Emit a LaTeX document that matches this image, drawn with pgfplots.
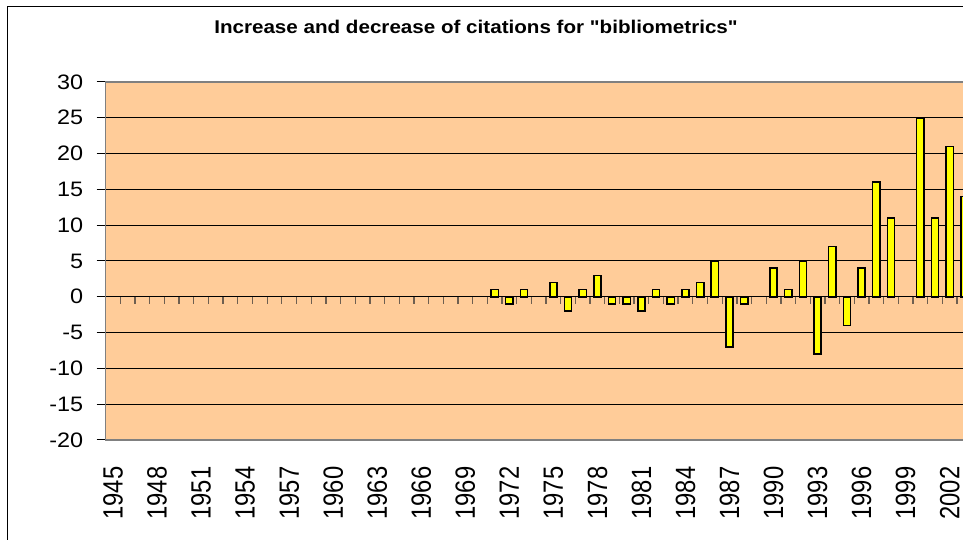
\documentclass[border=0pt]{standalone}
\usepackage{pgfplots}
\pgfplotsset{compat=1.18}
\usepackage{fontspec}
\setmainfont{Liberation Sans}[Ligatures=TeXOff]
\definecolor{bgc}{HTML}{FFCC99}
\definecolor{baryel}{HTML}{FFFF00}
\definecolor{tickc}{RGB}{110,95,80}
\begin{document}
\begin{tikzpicture}[x=1pt,y=1pt]
\useasboundingbox (0,0) rectangle (963,540);
\clip (0,0) rectangle (963,540);
\fill[white] (0,0) rectangle (963,540);
\draw[black, line width=1pt] (7,-20) -- (7,533) -- (1000,533);
\node[font=\bfseries\fontsize{18.4}{20}\selectfont] at (476,513) {\scalebox{1.12}[1]{Increase and decrease of citations for "bibliometrics"}};
\begin{axis}[
  at={(105.7pt,100pt)}, anchor=south west,
  scale only axis, width=866pt, height=358pt,
  xmin=1944.5, xmax=2003.5, ymin=-20, ymax=30,
  axis background/.style={fill=bgc},
  ytick={-20,-15,...,30},
  xtick={1945,1948,...,2002},
  ymajorgrids, grid style={black, line width=1pt},
  axis line style={draw=gray, line width=1.5pt},
  tick align=outside, major tick length=9pt,
  ytick style={black, line width=1pt},
  xtick style={draw=none},
  ytick pos=left,
  yticklabel={\scalebox{1.12}[1]{\pgfmathparse{int(round(\tick))}\pgfmathresult}},
  xticklabel={\scalebox{1}[1.17]{\pgfmathparse{int(round(\tick))}\pgfmathresult}},
  yticklabel style={font=\fontsize{20.9}{21}\selectfont, anchor=east, xshift=-10pt},
  xticklabel style={font=\fontsize{23.8}{24}\selectfont, rotate=90, anchor=east, xshift=-14pt},
  bar width=7.2pt,
]
\addplot[ybar, fill=baryel, draw=black, line width=1.5pt] coordinates {
(1971,1) (1972,-1) (1973,1) (1975,2) (1976,-2) (1977,1) (1978,3) (1979,-1)
(1980,-1) (1981,-2) (1982,1) (1983,-1) (1984,1) (1985,2) (1986,5) (1987,-7)
(1988,-1) (1990,4) (1991,1) (1992,5) (1993,-8) (1994,7) (1995,-4) (1996,4)
(1997,16) (1998,11) (2000,25) (2001,11) (2002,21) (2003,14)
};
\draw[black, line width=1.2pt] (axis cs:1944.5,0) -- (axis cs:2003.5,0);
\pgfplotsinvokeforeach{1945.5,1946.5,...,2003.5}{\draw[tickc, line width=1.3pt] (axis cs:#1,0) -- ++(0pt,-7pt);}
\end{axis}
\end{tikzpicture}
\end{document}
